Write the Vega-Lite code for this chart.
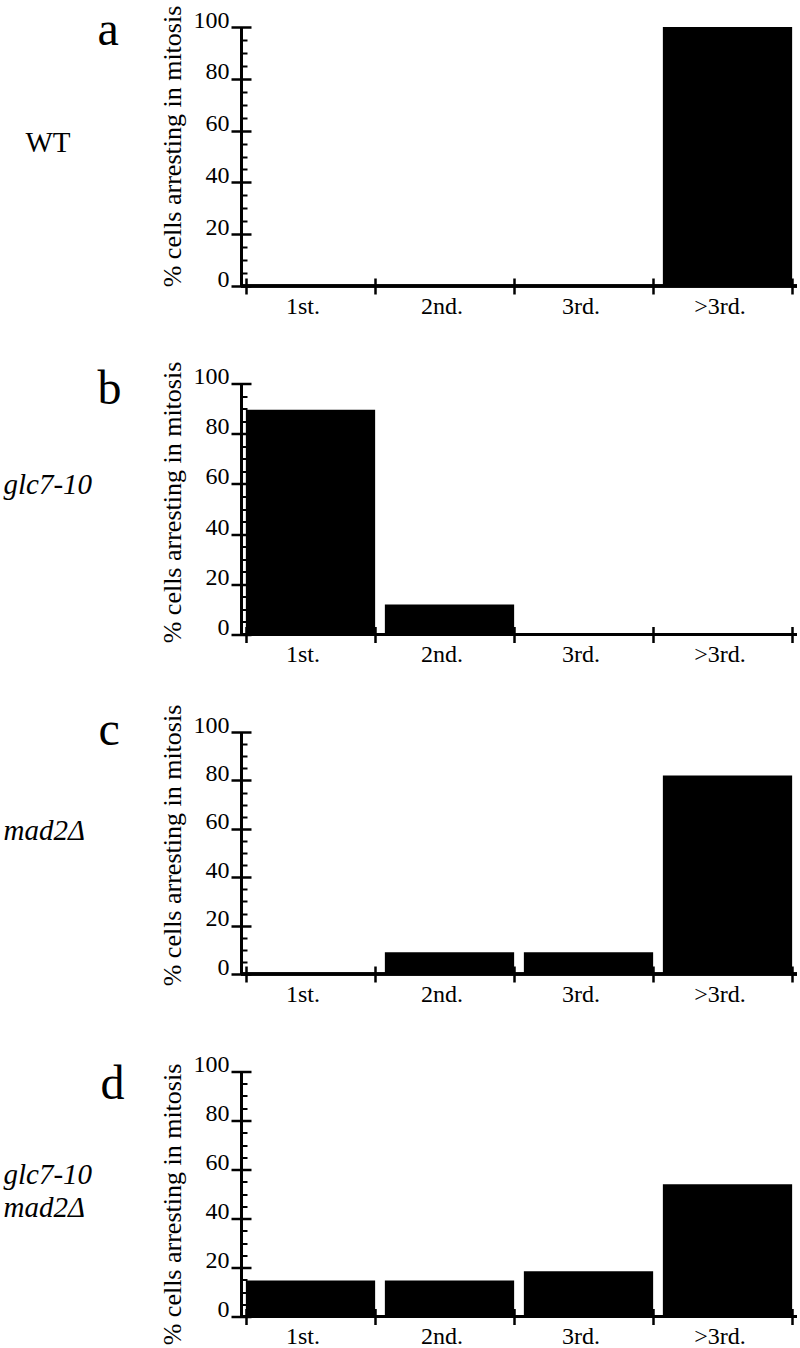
{
  "$schema": "https://vega.github.io/schema/vega-lite/v6.json",
  "padding": {"left": 3, "top": 5, "right": 2, "bottom": 0},
  "background": "white",
  "config": {"view": {"stroke": null}, "font": "Liberation Serif", "axis": {"grid": false}},
  "data": {"values": [
    {"panel": "a", "cat": "1st.", "value": 0},
    {"panel": "a", "cat": "2nd.", "value": 0},
    {"panel": "a", "cat": "3rd.", "value": 0},
    {"panel": "a", "cat": ">3rd.", "value": 100},
    {"panel": "b", "cat": "1st.", "value": 89.5},
    {"panel": "b", "cat": "2nd.", "value": 12},
    {"panel": "b", "cat": "3rd.", "value": 0},
    {"panel": "b", "cat": ">3rd.", "value": 0},
    {"panel": "c", "cat": "1st.", "value": 0},
    {"panel": "c", "cat": "2nd.", "value": 9},
    {"panel": "c", "cat": "3rd.", "value": 9},
    {"panel": "c", "cat": ">3rd.", "value": 82},
    {"panel": "d", "cat": "1st.", "value": 14.7},
    {"panel": "d", "cat": "2nd.", "value": 14.7},
    {"panel": "d", "cat": "3rd.", "value": 18.5},
    {"panel": "d", "cat": ">3rd.", "value": 54}
  ]},
  "bounds": "flush",
  "spacing": 97.5,
  "vconcat": [
    {
      "width": 556, "height": 259,
      "transform": [{"filter": "datum.panel === 'a'"}],
      "layer": [
        {"mark": {"type": "bar", "color": "black"},
         "encoding": {
           "x": {"field": "cat", "type": "nominal", "sort": ["1st.", "2nd.", "3rd.", ">3rd."],
             "scale": {"domain": ["1st.", "2nd.", "3rd.", ">3rd."], "paddingInner": 0.07, "paddingOuter": 0.035},
             "axis": {"orient": "bottom", "offset": -8, "domain": false, "tickBand": "extent", "tickSize": 16, "tickWidth": 2.5, "tickColor": "black",
               "labelAngle": 0, "labelFont": "Liberation Serif", "labelFontSize": 24, "labelColor": "black", "labelBaseline": "alphabetic", "labelPadding": 19, "labelOffset": -8,
               "title": "a", "titleFont": "Liberation Serif", "titleFontSize": 48, "titleFontWeight": "normal", "titleColor": "black", "titleAngle": 0, "titleAlign": "left", "titleBaseline": "alphabetic", "titleX": -144, "titleY": -234}},
           "y": {"field": "value", "type": "quantitative", "scale": {"domain": [0, 100], "nice": false},
             "axis": {"orient": "left", "offset": -10, "domain": false, "values": [0, 20, 40, 60, 80, 100], "tickSize": 20, "tickWidth": 2.5, "tickColor": "black",
               "labelFont": "Liberation Serif", "labelFontSize": 24, "labelColor": "black", "labelBaseline": "alphabetic", "labelPadding": 2,
               "title": "% cells arresting in mitosis", "titleFont": "Liberation Serif", "titleFontSize": 26, "titleFontWeight": "normal", "titleColor": "black", "titleAngle": -90, "titleAlign": "center", "titleBaseline": "middle", "titleX": -79, "titleY": 119}}
         }},
        {"mark": {"type": "rule", "color": "black", "strokeWidth": 3},
         "encoding": {
           "y": {"datum": 0, "type": "quantitative",
             "axis": {"orient": "left", "offset": 0, "domain": true, "domainWidth": 3, "domainColor": "black", "values": [5, 10, 15, 25, 30, 35, 45, 50, 55, 65, 70, 75, 85, 90, 95], "tickSize": -6, "tickWidth": 2, "tickColor": "black", "labels": false,
               "title": "WT", "titleFont": "Liberation Serif", "titleFontSize": 29, "titleFontWeight": "normal", "titleFontStyle": "normal", "titleColor": "black", "titleAngle": 0, "titleAlign": "left", "titleBaseline": "alphabetic", "titleX": -216, "titleY": 124}}
         }}
      ],
      "resolve": {"axis": {"y": "independent"}}
    },
    {
      "width": 556, "height": 251,
      "transform": [{"filter": "datum.panel === 'b'"}],
      "layer": [
        {"mark": {"type": "bar", "color": "black"},
         "encoding": {
           "x": {"field": "cat", "type": "nominal", "sort": ["1st.", "2nd.", "3rd.", ">3rd."],
             "scale": {"domain": ["1st.", "2nd.", "3rd.", ">3rd."], "paddingInner": 0.07, "paddingOuter": 0.035},
             "axis": {"orient": "bottom", "offset": -8, "domain": false, "tickBand": "extent", "tickSize": 16, "tickWidth": 2.5, "tickColor": "black",
               "labelAngle": 0, "labelFont": "Liberation Serif", "labelFontSize": 24, "labelColor": "black", "labelBaseline": "alphabetic", "labelPadding": 19, "labelOffset": -8,
               "title": "b", "titleFont": "Liberation Serif", "titleFontSize": 48, "titleFontWeight": "normal", "titleColor": "black", "titleAngle": 0, "titleAlign": "left", "titleBaseline": "alphabetic", "titleX": -144, "titleY": -223.5}},
           "y": {"field": "value", "type": "quantitative", "scale": {"domain": [0, 100], "nice": false},
             "axis": {"orient": "left", "offset": -10, "domain": false, "values": [0, 20, 40, 60, 80, 100], "tickSize": 20, "tickWidth": 2.5, "tickColor": "black",
               "labelFont": "Liberation Serif", "labelFontSize": 24, "labelColor": "black", "labelBaseline": "alphabetic", "labelPadding": 2,
               "title": "% cells arresting in mitosis", "titleFont": "Liberation Serif", "titleFontSize": 26, "titleFontWeight": "normal", "titleColor": "black", "titleAngle": -90, "titleAlign": "center", "titleBaseline": "middle", "titleX": -79, "titleY": 118.5}}
         }},
        {"mark": {"type": "rule", "color": "black", "strokeWidth": 3},
         "encoding": {
           "y": {"datum": 0, "type": "quantitative",
             "axis": {"orient": "left", "offset": 0, "domain": true, "domainWidth": 3, "domainColor": "black", "values": [5, 10, 15, 25, 30, 35, 45, 50, 55, 65, 70, 75, 85, 90, 95], "tickSize": -6, "tickWidth": 2, "tickColor": "black", "labels": false,
               "title": "glc7-10", "titleFont": "Liberation Serif", "titleFontSize": 29, "titleFontWeight": "normal", "titleFontStyle": "italic", "titleColor": "black", "titleAngle": 0, "titleAlign": "left", "titleBaseline": "alphabetic", "titleX": -238, "titleY": 109.5}}
         }}
      ],
      "resolve": {"axis": {"y": "independent"}}
    },
    {
      "width": 556, "height": 242,
      "transform": [{"filter": "datum.panel === 'c'"}],
      "layer": [
        {"mark": {"type": "bar", "color": "black"},
         "encoding": {
           "x": {"field": "cat", "type": "nominal", "sort": ["1st.", "2nd.", "3rd.", ">3rd."],
             "scale": {"domain": ["1st.", "2nd.", "3rd.", ">3rd."], "paddingInner": 0.07, "paddingOuter": 0.035},
             "axis": {"orient": "bottom", "offset": -8, "domain": false, "tickBand": "extent", "tickSize": 16, "tickWidth": 2.5, "tickColor": "black",
               "labelAngle": 0, "labelFont": "Liberation Serif", "labelFontSize": 24, "labelColor": "black", "labelBaseline": "alphabetic", "labelPadding": 19, "labelOffset": -8,
               "title": "c", "titleFont": "Liberation Serif", "titleFontSize": 48, "titleFontWeight": "normal", "titleColor": "black", "titleAngle": 0, "titleAlign": "left", "titleBaseline": "alphabetic", "titleX": -143, "titleY": -222}},
           "y": {"field": "value", "type": "quantitative", "scale": {"domain": [0, 100], "nice": false},
             "axis": {"orient": "left", "offset": -10, "domain": false, "values": [0, 20, 40, 60, 80, 100], "tickSize": 20, "tickWidth": 2.5, "tickColor": "black",
               "labelFont": "Liberation Serif", "labelFontSize": 24, "labelColor": "black", "labelBaseline": "alphabetic", "labelPadding": 2,
               "title": "% cells arresting in mitosis", "titleFont": "Liberation Serif", "titleFontSize": 26, "titleFontWeight": "normal", "titleColor": "black", "titleAngle": -90, "titleAlign": "center", "titleBaseline": "middle", "titleX": -79, "titleY": 113}}
         }},
        {"mark": {"type": "rule", "color": "black", "strokeWidth": 3},
         "encoding": {
           "y": {"datum": 0, "type": "quantitative",
             "axis": {"orient": "left", "offset": 0, "domain": true, "domainWidth": 3, "domainColor": "black", "values": [5, 10, 15, 25, 30, 35, 45, 50, 55, 65, 70, 75, 85, 90, 95], "tickSize": -6, "tickWidth": 2, "tickColor": "black", "labels": false,
               "title": "mad2Δ", "titleFont": "Liberation Serif", "titleFontSize": 29, "titleFontWeight": "normal", "titleFontStyle": "italic", "titleColor": "black", "titleAngle": 0, "titleAlign": "left", "titleBaseline": "alphabetic", "titleX": -238, "titleY": 107}}
         }}
      ],
      "resolve": {"axis": {"y": "independent"}}
    },
    {
      "width": 556, "height": 245,
      "transform": [{"filter": "datum.panel === 'd'"}],
      "layer": [
        {"mark": {"type": "bar", "color": "black"},
         "encoding": {
           "x": {"field": "cat", "type": "nominal", "sort": ["1st.", "2nd.", "3rd.", ">3rd."],
             "scale": {"domain": ["1st.", "2nd.", "3rd.", ">3rd."], "paddingInner": 0.07, "paddingOuter": 0.035},
             "axis": {"orient": "bottom", "offset": -8, "domain": false, "tickBand": "extent", "tickSize": 16, "tickWidth": 2.5, "tickColor": "black",
               "labelAngle": 0, "labelFont": "Liberation Serif", "labelFontSize": 24, "labelColor": "black", "labelBaseline": "alphabetic", "labelPadding": 19, "labelOffset": -8,
               "title": "d", "titleFont": "Liberation Serif", "titleFontSize": 48, "titleFontWeight": "normal", "titleColor": "black", "titleAngle": 0, "titleAlign": "left", "titleBaseline": "alphabetic", "titleX": -141, "titleY": -210.5}},
           "y": {"field": "value", "type": "quantitative", "scale": {"domain": [0, 100], "nice": false},
             "axis": {"orient": "left", "offset": -10, "domain": false, "values": [0, 20, 40, 60, 80, 100], "tickSize": 20, "tickWidth": 2.5, "tickColor": "black",
               "labelFont": "Liberation Serif", "labelFontSize": 24, "labelColor": "black", "labelBaseline": "alphabetic", "labelPadding": 2,
               "title": "% cells arresting in mitosis", "titleFont": "Liberation Serif", "titleFontSize": 26, "titleFontWeight": "normal", "titleColor": "black", "titleAngle": -90, "titleAlign": "center", "titleBaseline": "middle", "titleX": -79, "titleY": 132.5}}
         }},
        {"mark": {"type": "rule", "color": "black", "strokeWidth": 3},
         "encoding": {
           "y": {"datum": 0, "type": "quantitative",
             "axis": {"orient": "left", "offset": 0, "domain": true, "domainWidth": 3, "domainColor": "black", "values": [5, 10, 15, 25, 30, 35, 45, 50, 55, 65, 70, 75, 85, 90, 95], "tickSize": -6, "tickWidth": 2, "tickColor": "black", "labels": false,
               "title": ["glc7-10", "mad2Δ"], "titleFont": "Liberation Serif", "titleFontSize": 29, "titleFontWeight": "normal", "titleFontStyle": "italic", "titleColor": "black", "titleAngle": 0, "titleAlign": "left", "titleBaseline": "alphabetic", "titleLineHeight": 33, "titleX": -238, "titleY": 111.5}}
         }}
      ],
      "resolve": {"axis": {"y": "independent"}}
    }
  ]
}
